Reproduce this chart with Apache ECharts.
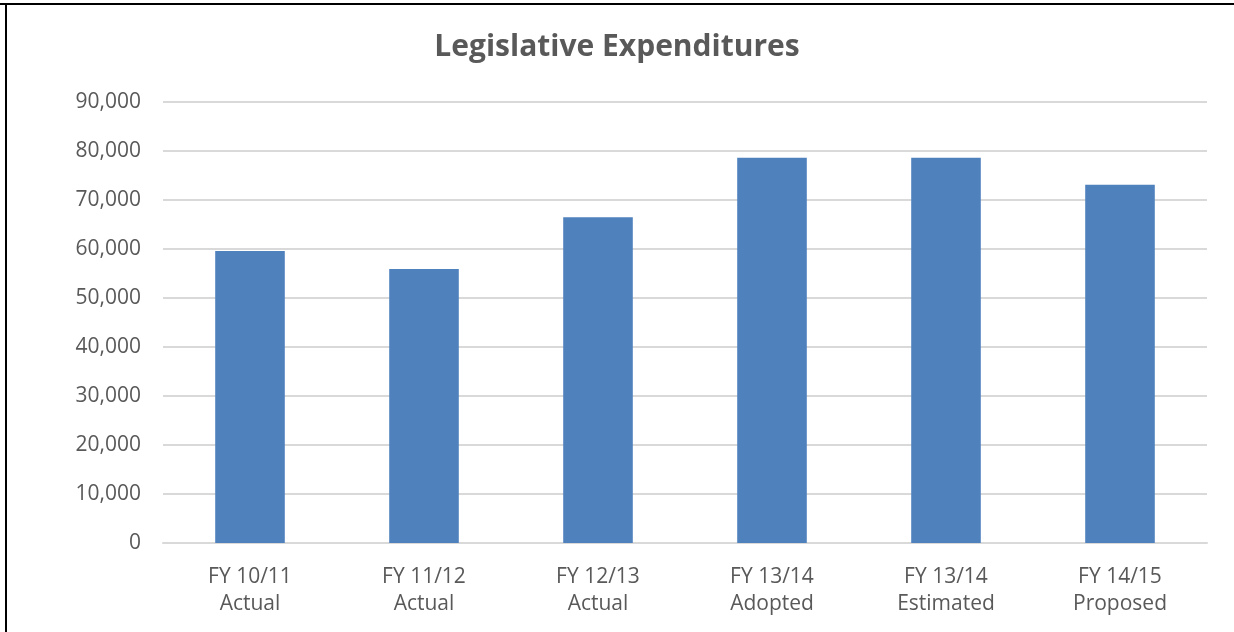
<!DOCTYPE html>
<html>
<head>
<meta charset="utf-8">
<script src="https://cdn.jsdelivr.net/npm/echarts@6/dist/echarts.min.js"></script>
<style>
  html, body { margin: 0; padding: 0; background: #fff; }
  #chart { width: 1234px; height: 632px; }
</style>
</head>
<body>
<div id="chart"></div>
<script>
// data
const categories = ['FY 10/11\nActual', 'FY 11/12\nActual', 'FY 12/13\nActual', 'FY 13/14\nAdopted', 'FY 13/14\nEstimated', 'FY 14/15\nProposed'];
const expenditures = [59600, 55900, 66500, 78600, 78600, 73100];
const yTicks = [0, 10000, 20000, 30000, 40000, 50000, 60000, 70000, 80000, 90000];

(function(){
    let myChart = echarts.init(document.getElementById('chart'));
    let font = "'Open Sans', sans-serif";
    let options = {
        animation: false,
        textStyle: { fontFamily: font },
        title: {
            text: 'Legislative Expenditures',
            left: 'center',
            top: 27,
            textStyle: { color: '#595959', fontSize: 30, fontWeight: 'bold', fontFamily: font }
        },
        graphic: [
            { type: 'line', shape: { x1: 0, y1: 4, x2: 1234, y2: 4 }, style: { stroke: '#000', lineWidth: 2 } },
            { type: 'line', shape: { x1: 6, y1: 3, x2: 6, y2: 632 }, style: { stroke: '#000', lineWidth: 2 } }
        ],
        grid: { left: 163, right: 27, top: 102, bottom: 89 },
        xAxis: {
            type: 'category',
            data: categories,
            axisLine: { show: true, lineStyle: { color: '#d9d9d9', width: 2 } },
            axisTick: { show: false },
            axisLabel: { color: '#595959', fontSize: 21, lineHeight: 27, margin: 21, fontFamily: font }
        },
        yAxis: {
            type: 'value',
            min: yTicks[0],
            max: yTicks[yTicks.length - 1],
            interval: yTicks[1] - yTicks[0],
            axisLine: { show: false },
            axisTick: { show: false },
            splitLine: { lineStyle: { color: '#d9d9d9', width: 2 } },
            axisLabel: {
                color: '#595959', fontSize: 21, margin: 22, fontFamily: font,
                formatter: v => v.toLocaleString('en-US')
            }
        },
        series: [{
            name: 'Expenditures',
            type: 'bar',
            data: expenditures,
            barWidth: '40%',
            itemStyle: { color: '#4f81bd' }
        }]
    };
    myChart.setOption(options);
})();
</script>
</body>
</html>
